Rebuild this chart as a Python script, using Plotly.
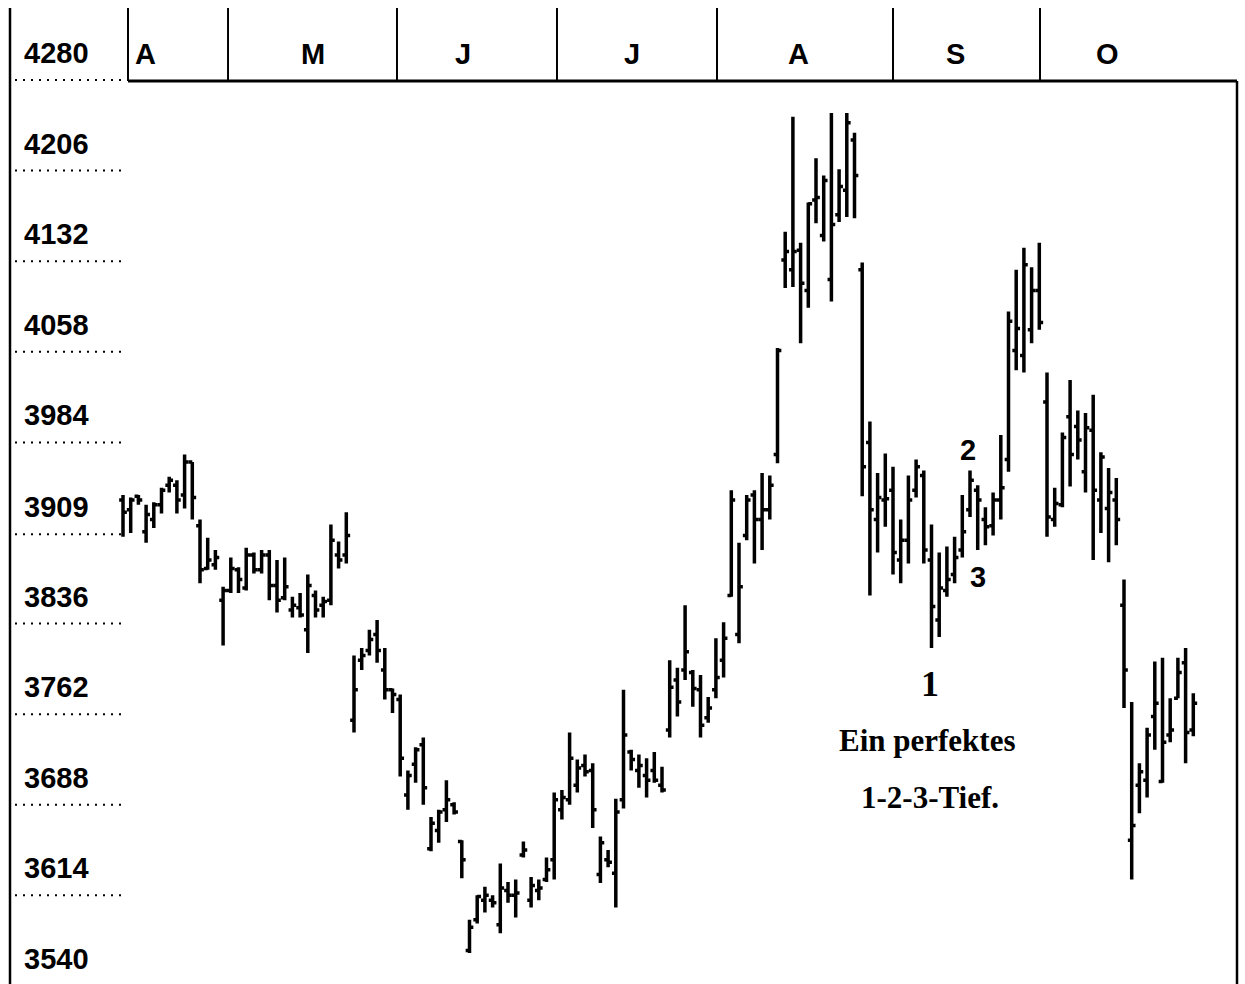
import plotly.graph_objects as go

# ---------------- data ----------------
opens = [3937, 3929, 3940, 3911, 3921, 3933, 3949, 3949, 3941, 3968,
         3916, 3881, 3884, 3855, 3863, 3880, 3865, 3892, 3880, 3892,
         3867, 3857, 3847, 3849, 3831, 3859, 3851, 3855, 3892, 3892,
         3757, 3806, 3814, 3827, 3798, 3782, 3774, 3696, 3721, 3737,
         3652, 3667, 3684, 3688, 3658, 3569, 3594, 3610, 3610, 3590,
         3618, 3614, 3647, 3610, 3618, 3627, 3643, 3684, 3692, 3704,
         3720, 3716, 3631, 3643, 3632, 3692, 3731, 3716, 3712, 3716,
         3704, 3749, 3790, 3798, 3796, 3782, 3759, 3782, 3806, 3859,
         3827, 3908, 3941, 3921, 3929, 3974, 4133, 4125, 4141, 4108,
         4182, 4153, 4117, 4170, 4190, 4231, 4125, 3984, 3921, 3937,
         3945, 3888, 3904, 3945, 3957, 3888, 3839, 3863, 3876, 3896,
         3929, 3945, 3921, 3916, 3937, 3970, 4059, 4055, 4076, 4108,
         4017, 3921, 3933, 4005, 3997, 3960, 3994, 3937, 3930, 3937,
         3851, 3659, 3704, 3708, 3760, 3707, 3745, 3775, 3804, 3749]
highs = [3941, 3939, 3941, 3933, 3935, 3947, 3956, 3953, 3974, 3968,
         3921, 3906, 3896, 3866, 3890, 3882, 3898, 3894, 3896, 3896,
         3888, 3890, 3858, 3861, 3876, 3863, 3858, 3917, 3903, 3927,
         3810, 3816, 3831, 3839, 3816, 3783, 3778, 3716, 3735, 3743,
         3678, 3684, 3708, 3690, 3659, 3594, 3614, 3621, 3614, 3640,
         3625, 3627, 3658, 3629, 3627, 3645, 3698, 3700, 3747, 3725,
         3729, 3722, 3662, 3651, 3693, 3782, 3733, 3729, 3726, 3731,
         3719, 3806, 3800, 3851, 3798, 3794, 3776, 3824, 3837, 3945,
         3902, 3941, 3945, 3959, 3957, 4061, 4156, 4250, 4147, 4180,
         4216, 4202, 4253, 4207, 4253, 4237, 4131, 4001, 3959, 3975,
         3964, 3921, 3957, 3970, 3961, 3917, 3894, 3899, 3907, 3941,
         3961, 3949, 3931, 3943, 3990, 4091, 4125, 4143, 4127, 4147,
         4041, 3947, 3992, 4035, 4010, 4008, 4023, 3976, 3963, 3955,
         3872, 3772, 3722, 3751, 3805, 3808, 3775, 3808, 3816, 3779]
lows = [3907, 3910, 3933, 3902, 3914, 3926, 3943, 3926, 3930, 3921,
        3869, 3880, 3880, 3818, 3861, 3861, 3863, 3877, 3877, 3855,
        3845, 3855, 3841, 3841, 3812, 3841, 3841, 3851, 3881, 3885,
        3747, 3798, 3810, 3804, 3774, 3763, 3711, 3684, 3706, 3688,
        3650, 3657, 3674, 3680, 3628, 3567, 3591, 3600, 3604, 3583,
        3608, 3596, 3645, 3604, 3610, 3625, 3627, 3676, 3688, 3698,
        3711, 3669, 3624, 3637, 3604, 3685, 3716, 3702, 3694, 3706,
        3698, 3743, 3760, 3790, 3768, 3743, 3755, 3775, 3792, 3858,
        3820, 3904, 3885, 3896, 3921, 3967, 4110, 4111, 4065, 4094,
        4163, 4148, 4099, 4164, 4168, 4167, 3940, 3859, 3894, 3915,
        3876, 3869, 3885, 3939, 3885, 3816, 3825, 3858, 3869, 3890,
        3923, 3896, 3900, 3908, 3921, 3960, 4043, 4041, 4065, 4076,
        3907, 3915, 3931, 3948, 3970, 3943, 3888, 3910, 3886, 3900,
        3767, 3627, 3681, 3694, 3733, 3706, 3739, 3775, 3722, 3744]
closes = [3927, 3937, 3937, 3925, 3933, 3945, 3953, 3937, 3968, 3939,
          3880, 3888, 3890, 3863, 3881, 3872, 3892, 3880, 3892, 3867,
          3855, 3866, 3851, 3843, 3867, 3847, 3854, 3904, 3888, 3908,
          3782, 3810, 3823, 3814, 3782, 3778, 3726, 3712, 3733, 3702,
          3673, 3682, 3692, 3682, 3643, 3588, 3613, 3614, 3608, 3620,
          3614, 3616, 3651, 3622, 3620, 3635, 3692, 3694, 3726, 3718,
          3715, 3684, 3657, 3641, 3682, 3745, 3725, 3720, 3708, 3708,
          3700, 3784, 3772, 3813, 3783, 3753, 3767, 3792, 3824, 3937,
          3866, 3937, 3921, 3929, 3949, 4059, 4140, 4140, 4114, 4179,
          4184, 4198, 4162, 4193, 4245, 4202, 3964, 3929, 3939, 3938,
          3894, 3904, 3937, 3964, 3896, 3850, 3865, 3872, 3890, 3911,
          3953, 3937, 3915, 3937, 3947, 4083, 4077, 4129, 4108, 4082,
          3923, 3934, 3988, 3974, 3986, 3996, 3945, 3972, 3943, 3921,
          3798, 3671, 3715, 3745, 3771, 3739, 3749, 3796, 3747, 3771]
days = list(range(len(closes)))

tick_values = [4280, 4206, 4132, 4058, 3984, 3909, 3836, 3762, 3688, 3614, 3540]
tick_labels = ["4280", "4206", "4132", "4058", "3984", "3909", "3836", "3762", "3688", "3614", "3540"]

month_labels = ["A", "M", "J", "J", "A", "S", "O"]
month_bounds = [0.65, 13.64, 35.58, 56.36, 77.14, 100.0, 119.09]
month_label_pos = [1.3, 24.7, 44.2, 66.1, 87.7, 108.1, 127.9]

# ---------------- figure ----------------
W, H = 1245, 984
X0, X1 = -15.974, 145.714
Y0, Y1 = 3541.6, 4345.34

fig = go.Figure(go.Ohlc(
    x=days, open=opens, high=highs, low=lows, close=closes,
    increasing=dict(line=dict(color="black", width=3.5)),
    decreasing=dict(line=dict(color="black", width=3.5)),
    tickwidth=0.5, hoverinfo="skip", showlegend=False,
))

digit_font = dict(family="Liberation Sans, Arial, sans-serif", size=29, color="black")
serif_font = dict(family="Liberation Serif, Times New Roman, serif", size=31, color="black")

shapes = []
annotations = []

def py(p):  # pixel row -> paper y
    return 1 - p / H

def px(p):  # pixel column -> paper x
    return p / W

def vy(v):  # value -> paper y
    return (v - Y0) / (Y1 - Y0)

# left axis line
shapes.append(dict(type="line", xref="paper", yref="paper", x0=px(10), x1=px(10),
                   y0=0, y1=py(8), line=dict(color="black", width=2.5)))
# right border
shapes.append(dict(type="line", xref="paper", yref="paper", x0=px(1237), x1=px(1237),
                   y0=0, y1=py(81), line=dict(color="black", width=2.5)))
# header bottom line
shapes.append(dict(type="line", xref="x", yref="paper", x0=month_bounds[0], x1=X0 + (X1 - X0) * 1237 / W,
                   y0=py(81), y1=py(81), line=dict(color="black", width=3)))
# month separators in the header band
for b in month_bounds:
    shapes.append(dict(type="line", xref="x", yref="paper", x0=b, x1=b,
                       y0=py(81), y1=py(8), line=dict(color="black", width=2)))
for lab, pos in zip(month_labels, month_label_pos):
    annotations.append(dict(x=pos, y=py(54), xref="x", yref="paper", text="<b>%s</b>" % lab,
                            showarrow=False, xanchor="left" if pos == month_label_pos[0] else "center",
                            yanchor="middle", font=digit_font))

# y tick labels with dotted lines
for v, t in zip(tick_values, tick_labels):
    shapes.append(dict(type="line", xref="paper", yref="paper", x0=px(15),
                       x1=px(128) if v == tick_values[0] else px(125), y0=vy(v), y1=vy(v),
                       line=dict(color="black", width=2, dash="2px,6px")))
    annotations.append(dict(x=px(22), y=vy(v), xref="paper", yref="paper", text="<b>%s</b>" % t,
                            showarrow=False, xanchor="left", yanchor="middle", yshift=27,
                            font=digit_font))

# chart annotations
annotations += [
    dict(x=109.7, y=3977.8, xref="x", yref="y", text="<b>2</b>", showarrow=False, font=digit_font),
    dict(x=111.0, y=3874.0, xref="x", yref="y", text="<b>3</b>", showarrow=False, font=digit_font),
    dict(x=104.8, y=3786.6, xref="x", yref="y", text="<b>1</b>", showarrow=False,
         font=dict(serif_font, size=36)),
    dict(x=104.5, y=3740.9, xref="x", yref="y", text="<b>Ein perfektes</b>", showarrow=False,
         font=serif_font),
    dict(x=104.8, y=3694.3, xref="x", yref="y", text="<b>1-2-3-Tief.</b>", showarrow=False,
         font=serif_font),
]

fig.update_layout(
    width=W, height=H,
    margin=dict(l=0, r=0, t=0, b=0, pad=0),
    paper_bgcolor="white", plot_bgcolor="white",
    xaxis=dict(range=[X0, X1], visible=False, rangeslider=dict(visible=False), fixedrange=True),
    yaxis=dict(range=[Y0, Y1], visible=False, fixedrange=True),
    shapes=shapes, annotations=annotations, showlegend=False,
)

fig.write_html("out.html", config={"displayModeBar": False},
               post_script="document.body.style.margin='0';document.body.style.overflow='hidden';")
